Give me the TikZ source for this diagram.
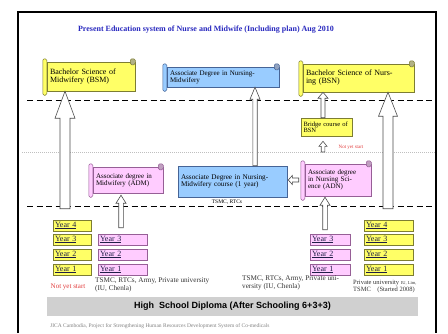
\documentclass[tikz,border=0pt]{standalone}
\usepackage{fontspec}
\setmainfont{Liberation Serif}
\setsansfont{Liberation Sans}
\usetikzlibrary{calc}
\definecolor{lemon}{RGB}{255, 255, 102}
\definecolor{lemonline}{RGB}{125, 125, 50}
\definecolor{lilac}{RGB}{255, 204, 255}
\definecolor{lilacline}{RGB}{150, 95, 150}
\definecolor{sky}{RGB}{153, 204, 255}
\definecolor{skyline}{RGB}{70, 100, 150}
\definecolor{titleink}{RGB}{40, 40, 190}
\definecolor{yeartext}{RGB}{30, 30, 70}
\definecolor{barfill}{RGB}{208, 208, 208}
\definecolor{alertred}{RGB}{225, 60, 60}

\newcommand\fsz[1]{\fontsize{#1}{#1}\selectfont}
\newcommand\jline[1]{\makebox[\hsize][s]{#1}}
% rolled edges of a scroll node
\newcommand\scrollrolls[3]{%
  \filldraw[draw=#3, fill=#2, rounded corners=1.5pt, line width=0.5pt]
    ([shift={(-4,-3)}]#1.north west) rectangle ([shift={(0,4)}]#1.south west);
  \filldraw[draw=#3, fill=#3!60, rounded corners=1.5pt, line width=0.5pt]
    ([shift={(-5,3)}]#1.north east) rectangle ([shift={(0,-3)}]#1.north east);
}
% x, base, tip, shaft half, head half, head length
\newcommand\hollowup[6]{%
  \filldraw[hollow] let \p1=(#2), \p2=(#3) in
    (#1pt-#4pt,\y1) -- (#1pt-#4pt,\y2-#6pt) -- (#1pt-#5pt,\y2-#6pt) -- (#1pt,\y2)
    -- (#1pt+#5pt,\y2-#6pt) -- (#1pt+#4pt,\y2-#6pt) -- (#1pt+#4pt,\y1) -- cycle;
}

\begin{document}
\begin{tikzpicture}[x=1pt,y=-1pt,
    scrollbox/.style={draw, rectangle, inner sep=0pt, line width=0.5pt, align=left},
    plainbox/.style={draw, rectangle, inner sep=0pt, line width=0.6pt, align=left},
    yearbox/.style={draw, rectangle, inner sep=0pt, line width=0.6pt, minimum height=11pt,
                    align=left, font=\fsz{8}, text=yeartext},
    hollow/.style={fill=white, draw=black!70, line width=0.6pt},
    hsep/.style={line width=1pt, dash pattern=on 6pt off 3.5pt},
    caption/.style={anchor=north west, inner sep=0pt, align=left, text=black!80}]
\useasboundingbox (0,0) rectangle (448,333);
\draw[line width=1.6pt] (18,333) -- (18,12) -- (436,12) -- (436,333);

\node[font=\bfseries\fsz{8}, text=titleink] (title) at (206,30)
     {Present Education system of Nurse and Midwife (Including plan) Aug 2010};

% level lines
\draw[hsep]                              (27,100) -- (436,100);
\draw[gray!50, line width=0.6pt, dash pattern=on 1pt off 1pt] (22,152) -- (436,152);
\draw[hsep]                              (27,206) -- (436,206);

% year columns
\foreach \n/\yy in {4/225.5,3/239.5,2/254.5,1/269.5} {
  \node[yearbox, fill=lemon, draw=lemonline, minimum width=38pt, text width=34pt] (yl\n) at (72,\yy) {\underline{Year \n}};
  \node[yearbox, fill=lemon, draw=lemonline, minimum width=49pt, text width=45pt] (yr\n) at (388.5,\yy) {\underline{Year \n}};
}
\foreach \n/\yy in {3/239.5,2/254.5,1/269.5} {
  \node[yearbox, fill=lilac, draw=lilacline, minimum width=49pt, text width=45pt] (pl\n) at (122.5,\yy) {\underline{Year \n}};
  \node[yearbox, fill=lilac, draw=lilacline, minimum width=40pt, text width=36pt] (pr\n) at (330,\yy) {\underline{Year \n}};
}

% degrees
\node[scrollbox, fill=lemon, draw=lemonline, minimum width=88pt, minimum height=29pt, text width=82pt, font=\fsz{8}] (bsm) at (91,76.5)
     {\jline{Bachelor Science of}\\Midwifery (BSM)};
\node[scrollbox, fill=sky, draw=skyline, minimum width=112pt, minimum height=20pt, text width=106pt, font=\fsz{7}] (adnm) at (223,77)
     {\jline{Associate Degree in Nursing-}\\Midwifery};
\node[scrollbox, fill=lemon, draw=lemonline, minimum width=111pt, minimum height=28pt, text width=105pt, font=\fsz{8}] (bsn) at (358.5,78)
     {\jline{Bachelor Science of Nurs-}\\ing (BSN)};
\node[plainbox, fill=lemon, draw=lemonline, minimum width=51pt, minimum height=18pt, text width=46pt, font=\fsz{6.5}] (bridge) at (326.5,127)
     {Bridge course of\\BSN};
\node[scrollbox, fill=lilac, draw=lilacline, minimum width=70pt, minimum height=26pt, text width=64pt, font=\fsz{7}] (adm) at (128,180)
     {\jline{Associate degree in}\\Midwifery (ADM)};
\node[plainbox, fill=sky, draw=skyline, minimum width=109pt, minimum height=31pt, text width=103pt, font=\fsz{7.2}] (nmc) at (232.5,181.5)
     {\jline{Associate Degree in Nursing-}\\\jline{Midwifery course (1 year)}};
\node[scrollbox, fill=lilac, draw=lilacline, minimum width=66pt, minimum height=32pt, text width=60pt, font=\fsz{7}] (adn) at (338,180)
     {\jline{Associate degree}\\\jline{in Nursing Sci-}\\ence (ADN)};
\scrollrolls{bsm}{lemon}{lemonline}
\scrollrolls{adnm}{sky}{skyline}
\scrollrolls{bsn}{lemon}{lemonline}
\scrollrolls{adm}{lilac}{lilacline}
\scrollrolls{adn}{lilac}{lilacline}

\node[fill=white, inner sep=1pt, font=\fsz{5.5}] (rtc) at (227,202) {TSMC, RTCs};
\node[font=\fsz{5}, text=alertred] (nysb) at (351,147) {Not yet start};
\coordinate (nys) at (323,152);

% progressions
\hollowup{65}{[yshift=11pt]yl4.north}{bsm.south}{5}{10}{27}
\hollowup{388}{[yshift=11pt]yr4.north}{bsn.south}{5}{9.5}{24}
\hollowup{255}{nmc.north}{adnm.south}{2.2}{5}{12}
\hollowup{121}{[yshift=6pt]pl3.north}{[yshift=-2pt]adm.south}{2.3}{5}{8}
\hollowup{325}{[yshift=4pt]pr3.north}{[yshift=-1pt]adn.south}{2.3}{5}{8}
\hollowup{323}{bridge.north}{bsn.south}{2}{5}{6}
\hollowup{323}{nys}{[yshift=-5pt]bridge.south}{1.8}{4}{5}
\filldraw[hollow] let \p1=([xshift=-6pt]adn.west), \p2=(nmc.east) in
  (\x1,\y1+2pt) -- (\x2+5pt,\y1+2pt) -- (\x2+5pt,\y1+4.5pt) -- (\x2+1pt,\y1)
  -- (\x2+5pt,\y1-4.5pt) -- (\x2+5pt,\y1-2pt) -- (\x1,\y1-2pt) -- cycle;

% providers
\node[font=\fsz{7}, text=alertred] (nyl) at (68,287) {Not yet start};
\node[caption, font=\fsz{7.2}] (capl) at (95,278) {TSMC, RTCs, Army, Private university\\(IU, Chenla)};
\node[caption, font=\fsz{7.2}] (capm) at (242,276) {TSMC, RTCs, Army, Private uni-\\versity (IU, Chenla)};
\node[caption, font=\fsz{6.5}] (capr) at (353,280) {Private university {\fsz{4.5}IU, Lim,}\\TSMC\quad(Started 2008)};

\node[fill=barfill, minimum width=371pt, minimum height=19pt, inner sep=0pt, font=\sffamily\bfseries\fsz{9}] (hsd) at (232.5,306.5)
     {High\ \ School Diploma (After Schooling 6+3+3)};
\node[anchor=west, inner sep=0pt, font=\fsz{5.5}, text=black!50] (jica) at (50,326)
     {JICA Cambodia, Project for Strengthening Human Resources Development System of Co-medicals};
\end{tikzpicture}
\end{document}
